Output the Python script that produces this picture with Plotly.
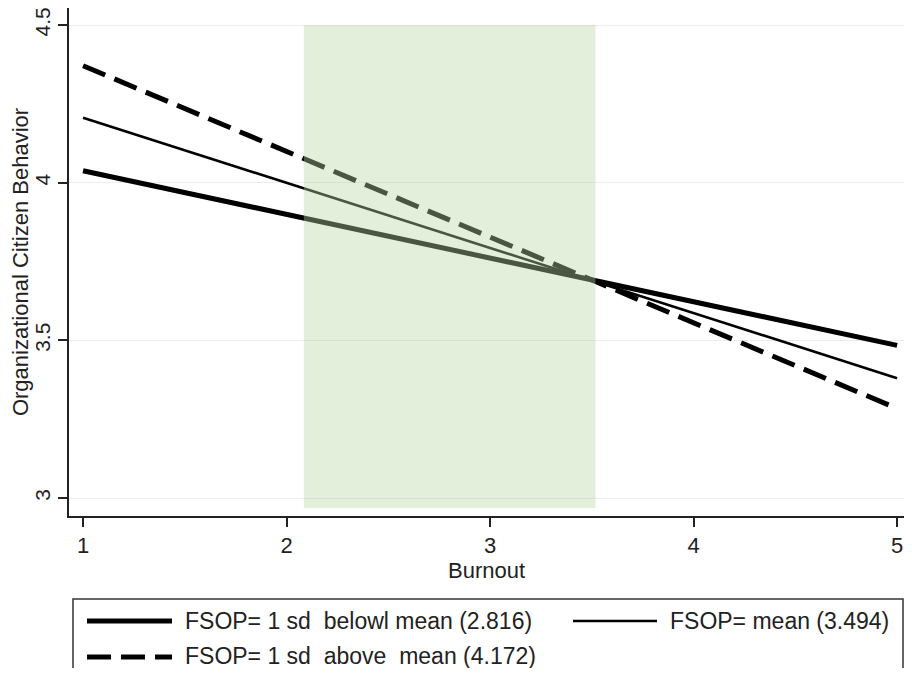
import plotly.graph_objects as go

# ---- data ----
burnout = [1, 5]
ocb_below = [4.038, 3.484]   # FSOP = 1 sd below mean (2.816)
ocb_mean = [4.206, 3.380]    # FSOP = mean (3.494)
ocb_above = [4.371, 3.284]   # FSOP = 1 sd above mean (4.172)
region_x = [2.085, 3.518]    # shaded region (Burnout)
region_y = [2.968, 4.5]
x_ticks = [1, 2, 3, 4, 5]
y_ticks = [3, 3.5, 4, 4.5]
y_tick_labels = ["3", "3.5", "4", "4.5"]
legend_labels = ["FSOP= 1 sd  belowl mean (2.816)",
                 "FSOP= mean (3.494)",
                 "FSOP= 1 sd  above  mean (4.172)"]

OFF = 8  # page body margin
W, H = 912 - 2 * OFF, 676 - 2 * OFF
PLOT_BOTTOM = 516  # screen px
ML, MR, MT = 69 - OFF, 0, 8 - OFF
MB = H - (PLOT_BOTTOM - OFF)
PW = W - ML - MR
PH = H - MT - MB
FONT = "Liberation Sans, Arial, sans-serif"
TXT = "#222222"


def px(x):
    return (x - OFF - ML) / PW


def py(y):
    return (H - MB - (y - OFF)) / PH


fig = go.Figure()
fig.add_trace(go.Scatter(x=burnout, y=ocb_below, mode="lines",
                         line=dict(color="black", width=5), showlegend=False))
fig.add_trace(go.Scatter(x=burnout, y=ocb_mean, mode="lines",
                         line=dict(color="black", width=2.6), showlegend=False))
fig.add_trace(go.Scatter(x=burnout, y=ocb_above, mode="lines",
                         line=dict(color="black", width=5, dash="24px,10px"),
                         showlegend=False))

shapes = [
    dict(type="rect", xref="x", yref="y", x0=region_x[0], x1=region_x[1],
         y0=region_y[0], y1=region_y[1], fillcolor="rgb(185,215,165)",
         opacity=0.4, line=dict(width=0), layer="above"),
    # legend box
    dict(type="rect", xref="paper", yref="paper", x0=px(73), x1=px(903),
         y0=py(599), y1=py(690), line=dict(color="#333333", width=1.5),
         fillcolor="rgba(0,0,0,0)"),
    # legend samples
    dict(type="line", xref="paper", yref="paper", x0=px(87), x1=px(172),
         y0=py(621), y1=py(621), line=dict(color="black", width=5)),
    dict(type="line", xref="paper", yref="paper", x0=px(573), x1=px(657),
         y0=py(621), y1=py(621), line=dict(color="black", width=2.6)),
    dict(type="line", xref="paper", yref="paper", x0=px(87), x1=px(172),
         y0=py(657), y1=py(657), line=dict(color="black", width=5, dash="24px,10px")),
]

annotations = [
    dict(text=legend_labels[0], xref="paper", yref="paper", x=px(183), y=py(621),
         xanchor="left", yanchor="middle", showarrow=False,
         font=dict(family=FONT, size=23, color=TXT)),
    dict(text=legend_labels[1], xref="paper", yref="paper", x=px(668), y=py(621),
         xanchor="left", yanchor="middle", showarrow=False,
         font=dict(family=FONT, size=23, color=TXT)),
    dict(text=legend_labels[2], xref="paper", yref="paper", x=px(183), y=py(656),
         xanchor="left", yanchor="middle", showarrow=False,
         font=dict(family=FONT, size=23, color=TXT)),
]

fig.update_layout(
    width=W, height=H,
    margin=dict(l=ML, r=MR, t=MT, b=MB, autoexpand=False),
    paper_bgcolor="white", plot_bgcolor="white",
    shapes=shapes, annotations=annotations,
    font=dict(family=FONT, size=22, color=TXT),
    xaxis=dict(range=[0.931, 5.034], tickvals=x_ticks, showgrid=False,
               automargin=False, ticklabeloverflow="allow",
               zeroline=False, showline=True, linecolor="#222222", linewidth=1.5,
               ticks="outside", ticklen=9, tickcolor="#222222", tickwidth=1.5,
               tickfont=dict(size=22),
               title=dict(text="Burnout", font=dict(size=22), standoff=2)),
    yaxis=dict(range=[2.943, 4.554], tickvals=y_ticks, ticktext=y_tick_labels,
               automargin=False, ticklabeloverflow="allow",
               tickangle=-90, showgrid=True, gridcolor="#ececec", gridwidth=1,
               zeroline=False, showline=True, linecolor="#222222", linewidth=1.5,
               ticks="outside", ticklen=9, tickcolor="#222222", tickwidth=1.5,
               tickfont=dict(size=21),
               title=dict(text="Organizational Citizen Behavior",
                          font=dict(size=22), standoff=4)),
)

fig.write_html("out.html", default_width=f"{W}px", default_height=f"{H}px")
